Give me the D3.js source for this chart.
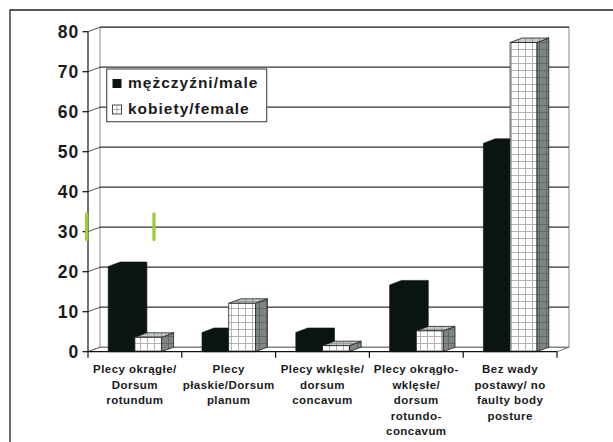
<!DOCTYPE html>
<html><head><meta charset="utf-8">
<script src="https://cdn.jsdelivr.net/npm/d3@7/dist/d3.min.js"></script>
<style>
html,body{margin:0;padding:0;background:#fff;}
svg{display:block;font-family:"Liberation Sans",Arial,sans-serif;font-weight:bold;}
</style></head>
<body>
<svg id="c" width="613" height="442"></svg>
<script>
const categories = [
  ["Plecy okrągłe/", "Dorsum", "rotundum"],
  ["Plecy", "płaskie/Dorsum", "planum"],
  ["Plecy wklęsłe/", "dorsum", "concavum"],
  ["Plecy okrągło-", "wklęsłe/", "dorsum", "rotundo-", "concavum"],
  ["Bez wady", "postawy/ no", "faulty body", "posture"]
];
const seriesNames = ["mężczyźni/male", "kobiety/female"];
const male = [21.3, 4.8, 4.8, 16.7, 52.1];
const female = [3.6, 12.1, 1.5, 5.2, 77.3];
const yTicks = [0, 10, 20, 30, 40, 50, 60, 70, 80];

const svg = d3.select("#c");
const DX = 12, DY = -4.5;
const y = d3.scaleLinear().domain([0, 80]).range([351.7, 31.7]);
const x = d3.scaleBand().domain(d3.range(categories.length)).range([88, 557]).padding(0);
const barW = 26.7;

// patterns
const defs = svg.append("defs");
function grid(id, bg, line) {
  const p = defs.append("pattern").attr("id", id).attr("patternUnits", "userSpaceOnUse")
    .attr("width", 7).attr("height", 7);
  p.append("rect").attr("width", 7).attr("height", 7).attr("fill", bg);
  p.append("path").attr("d", "M0,0.5H7M0.5,0V7").attr("stroke", line).attr("stroke-width", 0.9);
}
grid("gFront", "#ffffff", "#a9a9a9");
grid("gSide", "#7e8682", "#5c6460");
grid("gTop", "#c3cac6", "#8f9692");

// outer frame
svg.append("path").attr("d", "M10,442V10H613").attr("fill", "none").attr("stroke", "#222").attr("stroke-width", 1.3);

// back wall & gridlines
const x0 = 88, x1 = 557;
svg.append("rect").attr("x", x0 + DX).attr("y", y(80) + DY).attr("width", x1 - x0).attr("height", y(0) - y(80))
  .attr("fill", "#fff").attr("stroke", "#888").attr("stroke-width", 1);
yTicks.forEach(v => {
  if (v > 0) {
    svg.append("line").attr("x1", x0 + DX).attr("x2", x1 + DX).attr("y1", y(v) + DY).attr("y2", y(v) + DY)
      .attr("stroke", "#333").attr("stroke-width", 1.2);
  }
  svg.append("line").attr("x1", x0).attr("x2", x0 + DX).attr("y1", y(v)).attr("y2", y(v) + DY)
    .attr("stroke", "#555").attr("stroke-width", 1);
  svg.append("line").attr("x1", x0 - 5.5).attr("x2", x0).attr("y1", y(v)).attr("y2", y(v))
    .attr("stroke", "#111").attr("stroke-width", 1.2);
  svg.append("text").attr("x", 79.5).attr("y", y(v) + 6.5).attr("text-anchor", "end")
    .attr("font-size", 17.5).attr("letter-spacing", 1.2).attr("fill", "#1a1a1a").text(v);
});
// floor
svg.append("path").attr("d", `M${x0},${y(0)}L${x0 + DX},${y(0) + DY}H${x1 + DX}L${x1},${y(0)}`)
  .attr("fill", "none").attr("stroke", "#777").attr("stroke-width", 1);
// y axis
svg.append("line").attr("x1", x0).attr("x2", x0).attr("y1", y(80)).attr("y2", y(0)).attr("stroke", "#111").attr("stroke-width", 1.2);

// bars
function solidBar(xl, v, color) {
  const xr = xl + barW, yt = y(v), yb = y(0);
  svg.append("path")
    .attr("d", `M${xl},${yb}V${yt}L${xl + DX},${yt + DY}H${xr + DX}V${yb + DY}L${xr},${yb}Z`)
    .attr("fill", color).attr("stroke", color).attr("stroke-width", 0.6).attr("stroke-linejoin", "round");
}
function patternBar(xl, v, front, side, top, stroke) {
  const xr = xl + barW, yt = y(v), yb = y(0);
  const g = svg.append("g");
  g.append("path").attr("d", `M${xr},${yb}L${xr + DX},${yb + DY}V${yt + DY}L${xr},${yt}Z`)
    .attr("fill", side).attr("stroke", stroke).attr("stroke-width", 0.8);
  g.append("path").attr("d", `M${xl},${yt}L${xl + DX},${yt + DY}H${xr + DX}L${xr},${yt}Z`)
    .attr("fill", top).attr("stroke", stroke).attr("stroke-width", 0.8);
  g.append("rect").attr("x", xl).attr("y", yt).attr("width", barW).attr("height", yb - yt)
    .attr("fill", front).attr("stroke", stroke).attr("stroke-width", 0.8);
}
categories.forEach((c, i) => {
  const cx = x(i) + x.bandwidth() / 2;
  solidBar(cx - barW, male[i], "#0b1510");
  patternBar(cx, female[i], "url(#gFront)", "url(#gSide)", "url(#gTop)", "#222");
});

// x axis
svg.append("line").attr("x1", x0).attr("x2", x1).attr("y1", y(0)).attr("y2", y(0)).attr("stroke", "#111").attr("stroke-width", 1.2);
d3.range(categories.length + 1).forEach(i => {
  const xx = i < categories.length ? x(i) : x1;
  svg.append("line").attr("x1", xx).attr("x2", xx).attr("y1", y(0)).attr("y2", y(0) + 6)
    .attr("stroke", "#111").attr("stroke-width", 1.2);
});
categories.forEach((c, i) => {
  const cx = x(i) + x.bandwidth() / 2;
  const t = svg.append("text").attr("text-anchor", "middle").attr("font-size", 11.5)
    .attr("letter-spacing", 0.45).attr("fill", "#1a1a1a");
  c.forEach((line, k) => {
    t.append("tspan").attr("x", cx).attr("y", 373 + k * 15.6).text(line);
  });
});

// legend
const lg = svg.append("g");
lg.append("rect").attr("x", 106.7).attr("y", 69).attr("width", 160).attr("height", 52.7)
  .attr("fill", "#fff").attr("stroke", "#555").attr("stroke-width", 1.2);
lg.append("rect").attr("x", 112.5).attr("y", 79).attr("width", 9).attr("height", 9).attr("fill", "#0b1510");
lg.append("rect").attr("x", 112.5).attr("y", 105).attr("width", 9).attr("height", 9)
  .attr("fill", "#fff").attr("stroke", "#333").attr("stroke-width", 0.9);
lg.append("path").attr("d", "M117,105V114M112.5,109.5H121.5").attr("stroke", "#999").attr("stroke-width", 0.8);
seriesNames.forEach((n, k) => {
  lg.append("text").attr("x", 128).attr("y", 88.3 + k * 25.8).attr("font-size", 15.5)
    .attr("letter-spacing", 1).attr("fill", "#1a1a1a").text(n);
});

// green marks
[86.7, 154].forEach(gx => {
  svg.append("line").attr("x1", gx).attr("x2", gx).attr("y1", 214).attr("y2", 239.5)
    .attr("stroke", "#9bcc3c").attr("stroke-width", 3.3).attr("stroke-linecap", "round");
});
</script>
</body></html>
